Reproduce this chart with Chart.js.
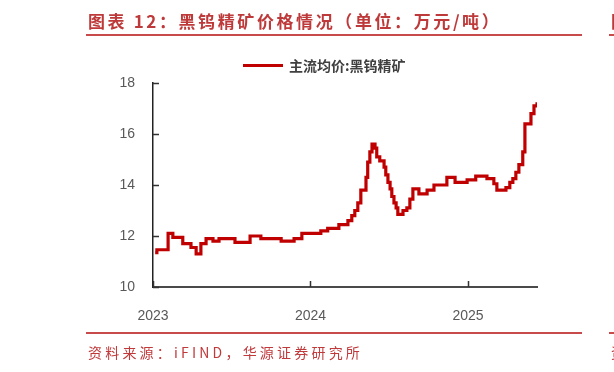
<!DOCTYPE html>
<html>
<head>
<meta charset="utf-8">
<script src="https://cdn.jsdelivr.net/npm/chart.js@4"></script>
<style>
  body { margin: 0; background: #fff; }
  #wrap { position: relative; width: 614px; height: 372px; overflow: hidden; font-family: "Noto Sans CJK SC", sans-serif; }
  #chart { position: absolute; left: 0; top: 0; }
  .title { position: absolute; top: 8px; font-size: 17px; font-weight: bold; color: #BE3A3A; letter-spacing: 2.6px; white-space: nowrap; }
  .rule { position: absolute; height: 2px; background: #C84A4A; }
  .legend { position: absolute; left: 243px; top: 55px; height: 20px; white-space: nowrap; }
  .legend i { position: absolute; left: 0; top: 9px; width: 40px; height: 3px; background: #C00000; }
  .legend span { position: absolute; left: 46px; top: 0; font-size: 14px; font-weight: bold; color: #404040; }
  .source { position: absolute; top: 342px; font-size: 14px; color: #C0393B; letter-spacing: 3.2px; white-space: nowrap; }
</style>
</head>
<body>
<div id="wrap">
  <canvas id="chart" width="614" height="372"></canvas>
  <div class="title" style="left:88px;">图表 12：黑钨精矿价格情况（单位：万元/吨）</div>
  <div class="title" style="left:611px;">图</div>
  <div class="rule" style="left:86px; width:496px; top:34px;"></div>
  <div class="rule" style="left:609px; width:10px; top:34px;"></div>
  <div class="legend"><i></i><span>主流均价:黑钨精矿</span></div>
  <div class="rule" style="left:86px; width:496px; top:332px;"></div>
  <div class="rule" style="left:609px; width:10px; top:332px;"></div>
  <div class="source" style="left:88px;">资料来源：iFIND，华源证券研究所</div>
  <div class="source" style="left:611px;">资</div>
</div>
<script>
// 主流均价:黑钨精矿 (万元/吨), each date starts a new price level
const dates = [
  '2023-01-06', '2023-01-10', '2023-02-05', '2023-02-16', '2023-03-11', '2023-03-30',
  '2023-04-11', '2023-04-22', '2023-05-04', '2023-05-20', '2023-06-03', '2023-07-10',
  '2023-08-14', '2023-09-08', '2023-10-25', '2023-11-24', '2023-12-12', '2024-01-25',
  '2024-02-10', '2024-03-07', '2024-03-28', '2024-04-06', '2024-04-13', '2024-04-20',
  '2024-04-27', '2024-05-09', '2024-05-13', '2024-05-18', '2024-05-23', '2024-05-30',
  '2024-06-03', '2024-06-10', '2024-06-20', '2024-06-24', '2024-06-29', '2024-07-04',
  '2024-07-08', '2024-07-13', '2024-07-18', '2024-07-22', '2024-08-03', '2024-08-12',
  '2024-08-19', '2024-08-26', '2024-09-09', '2024-09-28', '2024-10-14', '2024-11-13',
  '2024-12-02', '2024-12-30', '2025-01-19', '2025-02-14', '2025-03-02', '2025-03-09',
  '2025-03-30', '2025-04-08', '2025-04-15', '2025-04-22', '2025-04-29', '2025-05-08',
  '2025-05-13', '2025-05-27', '2025-06-03', '2025-06-10'
];
const prices = [
  11.35, 11.46, 12.1, 11.95, 11.7, 11.55,
  11.3, 11.7, 11.9, 11.8, 11.9, 11.75,
  12.0, 11.9, 11.8, 11.9, 12.1, 12.2,
  12.3, 12.45, 12.6, 12.8, 13.0, 13.3,
  13.8, 14.3, 14.9, 15.3, 15.6, 15.45,
  15.1, 14.95, 14.7, 14.4, 14.1, 13.85,
  13.55, 13.3, 13.1, 12.85, 13.0, 13.1,
  13.45, 13.85, 13.65, 13.8, 14.0, 14.3,
  14.1, 14.2, 14.35, 14.25, 14.05, 13.8,
  13.9, 14.1, 14.25, 14.5, 14.8, 15.3,
  16.4, 16.8, 17.1, 17.25
];
const yearTicks = [2023, 2024, 2025];
const valueTicks = [10, 12, 14, 16, 18];

function toYear(s) {
  const d = new Date(s + 'T00:00:00Z');
  const y = d.getUTCFullYear();
  const start = Date.UTC(y, 0, 1);
  const end = Date.UTC(y + 1, 0, 1);
  return y + (d.getTime() - start) / (end - start);
}

const points = dates.map((d, i) => ({ x: toYear(d), y: prices[i] }));
const tickFont = { family: 'Liberation Sans, Arial, sans-serif', size: 14 };

// tick marks pointing into the plot
const innerTicks = {
  id: 'innerTicks',
  afterDraw(c) {
    const ctx = c.ctx, xs = c.scales.x, ys = c.scales.y, a = c.chartArea;
    ctx.save();
    ctx.strokeStyle = '#333';
    ctx.lineWidth = 1.5;
    ctx.beginPath();
    valueTicks.forEach(v => {
      const y = Math.round(ys.getPixelForValue(v)) + 0.5;
      ctx.moveTo(a.left, y);
      ctx.lineTo(a.left + 6, y);
    });
    yearTicks.forEach(v => {
      const x = Math.round(xs.getPixelForValue(v)) + 0.5;
      ctx.moveTo(x, a.bottom);
      ctx.lineTo(x, a.bottom - 6);
    });
    ctx.stroke();
    ctx.restore();
  }
};

new Chart(document.getElementById('chart'), {
  type: 'line',
  data: {
    datasets: [{
      label: '主流均价:黑钨精矿',
      data: points,
      borderColor: '#C00000',
      borderWidth: 3.2,
      pointRadius: 0,
      stepped: true,
      fill: false
    }]
  },
  options: {
    responsive: false,
    animation: false,
    layout: { padding: { left: 0, right: 77, top: 83, bottom: 0 } },
    plugins: { legend: { display: false }, tooltip: { enabled: false } },
    scales: {
      x: {
        type: 'linear',
        min: yearTicks[0],
        max: points[points.length - 1].x,
        afterBuildTicks(s) { s.ticks = yearTicks.map(v => ({ value: v })); },
        afterFit(s) { s.height = 85; },
        ticks: { font: tickFont, color: '#595959', padding: 13, maxRotation: 0, autoSkip: false, callback: v => String(v) },
        grid: { display: false },
        border: { color: '#4a4a4a', width: 2 }
      },
      y: {
        min: valueTicks[0],
        max: valueTicks[valueTicks.length - 1],
        afterBuildTicks(s) { s.ticks = valueTicks.map(v => ({ value: v })); },
        afterFit(s) { s.width = 153; },
        ticks: { font: tickFont, color: '#595959', padding: 10 },
        grid: { display: false },
        border: { color: '#222', width: 1.5 }
      }
    }
  },
  plugins: [innerTicks]
});
</script>
</body>
</html>
